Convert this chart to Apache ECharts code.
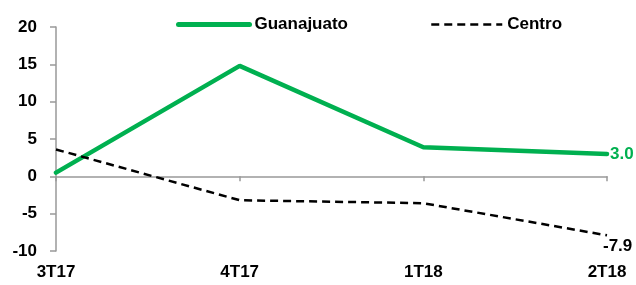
<!DOCTYPE html>
<html><head><meta charset="utf-8">
<script src="https://cdn.jsdelivr.net/npm/echarts@6/dist/echarts.min.js"></script>
<style>html,body{margin:0;padding:0;background:#fff}#c{width:636px;height:285px}</style>
</head><body><div id="c"></div>
<script>
const categories = ['3T17', '4T17', '1T18', '2T18'];
const guanajuato = [0.5, 14.8, 3.9, 3.0];
const centro = [3.6, -3.2, -3.6, -7.9];
const yTicks = [-10, -5, 0, 5, 10, 15, 20];

const FONT = '"Liberation Sans", Arial, sans-serif';
const chart = echarts.init(document.getElementById('c'), null, {renderer: 'canvas'});
chart.setOption({
  animation: false,
  backgroundColor: '#fff',
  grid: {left: 56, right: 29, top: 27, bottom: 34, containLabel: false, outerBoundsMode: 'none'},
  legend: {
    top: 11, left: 171, itemWidth: 71, itemHeight: 12, itemGap: 82,
    itemStyle: {opacity: 0},
    textStyle: {fontFamily: FONT, fontWeight: 'bold', fontSize: 17, color: '#000'},
    data: [
      {name: 'Guanajuato', lineStyle: {width: 5, cap: 'round'}},
      {name: 'Centro', lineStyle: {width: 2.5}}
    ]
  },
  xAxis: [{
    type: 'category', data: categories, boundaryGap: false,
    axisLine: {onZero: true, lineStyle: {color: '#999', width: 1.5}},
    axisTick: {show: true, alignWithLabel: true, length: 5, lineStyle: {color: '#999', width: 1.5}},
    axisLabel: {show: false}
  }, {
    type: 'category', data: categories, boundaryGap: false, position: 'bottom',
    axisLine: {show: false, onZero: false},
    axisTick: {show: false},
    axisLabel: {
      fontFamily: FONT, fontWeight: 'bold', fontSize: 17, color: '#000',
      interval: 0, margin: 13
    }
  }],
  yAxis: {
    type: 'value', min: yTicks[0], max: yTicks[yTicks.length - 1], interval: 5,
    splitLine: {show: false},
    axisLine: {show: true, lineStyle: {color: '#999', width: 1.5}},
    axisTick: {show: true, length: 6, lineStyle: {color: '#999', width: 1.5}},
    axisLabel: {fontFamily: FONT, fontWeight: 'bold', fontSize: 17, color: '#000', margin: 19}
  },
  series: [
    {
      name: 'Guanajuato', type: 'line', data: guanajuato, symbol: 'none',
      color: '#00B050',
      lineStyle: {color: '#00B050', width: 4.5, cap: 'round'},
      endLabel: {
        show: true, distance: 3,
        fontFamily: FONT, fontWeight: 'bold', fontSize: 17, color: '#00B050',
        formatter: p => Number(p.value).toFixed(1)
      }
    },
    {
      name: 'Centro', type: 'line', data: centro, symbol: 'none',
      color: '#000',
      lineStyle: {color: '#000', width: 2.5, type: [8, 5]},
      endLabel: {
        show: true, distance: 0, offset: [-4, 11],
        fontFamily: FONT, fontWeight: 'bold', fontSize: 17, color: '#000',
        formatter: p => Number(p.value).toFixed(1)
      }
    }
  ]
});
</script></body></html>
